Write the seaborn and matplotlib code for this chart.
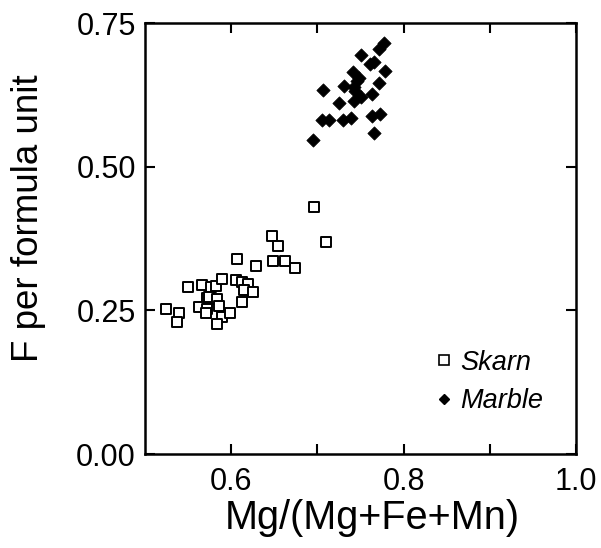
import pandas as pd
import seaborn as sns
import matplotlib.pyplot as plt
from matplotlib.lines import Line2D
from matplotlib.ticker import FixedLocator

# Skarn samples (open squares)
skarn_x = [0.696, 0.647, 0.654, 0.710, 0.607, 0.629, 0.649, 0.662, 0.674,
           0.550, 0.566, 0.576, 0.582, 0.589, 0.606, 0.612, 0.619, 0.615,
           0.625, 0.524, 0.539, 0.537, 0.572, 0.574, 0.584, 0.563, 0.572,
           0.586, 0.571, 0.589, 0.599, 0.612, 0.584]
skarn_y = [0.429, 0.380, 0.362, 0.369, 0.339, 0.328, 0.336, 0.336, 0.324,
           0.290, 0.294, 0.290, 0.293, 0.305, 0.303, 0.299, 0.295, 0.286,
           0.282, 0.253, 0.245, 0.230, 0.272, 0.273, 0.269, 0.256, 0.253,
           0.257, 0.245, 0.238, 0.245, 0.264, 0.226]

# Marble samples (filled diamonds)
marble_x = [0.777, 0.771, 0.751, 0.761, 0.766, 0.778, 0.741, 0.706, 0.731,
            0.746, 0.742, 0.771, 0.725, 0.743, 0.751, 0.763, 0.705, 0.714,
            0.730, 0.739, 0.763, 0.773, 0.766, 0.695, 0.744, 0.748]
marble_y = [0.716, 0.704, 0.694, 0.679, 0.682, 0.667, 0.664, 0.633, 0.641,
            0.649, 0.639, 0.645, 0.611, 0.614, 0.622, 0.626, 0.581, 0.581,
            0.581, 0.584, 0.588, 0.592, 0.558, 0.547, 0.632, 0.655]

x_ticks = [0.6, 0.8, 1.0]
x_minor = [0.7, 0.9]
y_ticks = [0.00, 0.25, 0.50, 0.75]

df_skarn = pd.DataFrame({"x": skarn_x, "y": skarn_y})
df_marble = pd.DataFrame({"x": marble_x, "y": marble_y})

sns.set_style("ticks")
plt.rcParams["font.family"] = ["Liberation Sans", "DejaVu Sans"]
plt.rcParams["text.color"] = "black"
plt.rcParams["axes.labelcolor"] = "black"
plt.rcParams["xtick.color"] = "black"
plt.rcParams["ytick.color"] = "black"
plt.rcParams["axes.edgecolor"] = "black"

fig = plt.figure(figsize=(6.01, 5.48), dpi=100)
ax = fig.add_axes([0.2413, 0.1715, 0.7171, 0.7865])

sns.scatterplot(data=df_skarn, x="x", y="y", marker="s", s=55,
                facecolor="white", edgecolor="black", linewidth=1.4, ax=ax)
sns.scatterplot(data=df_marble, x="x", y="y", marker="D", s=46,
                color="black", edgecolor="black", linewidth=0.5, ax=ax)

ax.set_xlim(0.5, 1.0)
ax.set_ylim(0.0, 0.75)
ax.xaxis.set_major_locator(FixedLocator(x_ticks))
ax.xaxis.set_minor_locator(FixedLocator(x_minor))
ax.yaxis.set_major_locator(FixedLocator(y_ticks))
ax.set_xticklabels([f"{v:.1f}" for v in x_ticks])
ax.set_yticklabels([f"{v:.2f}" for v in y_ticks])
ax.tick_params(which="both", direction="in", top=True, right=True,
               length=7, width=1.5, labelsize=22)
ax.tick_params(axis="x", which="both", pad=9)
ax.tick_params(axis="y", which="both", pad=6.5)
for sp in ax.spines.values():
    sp.set_linewidth(1.8)

ax.set_xlabel("Mg/(Mg+Fe+Mn)", fontsize=28.5)
ax.set_ylabel("F per formula unit", fontsize=26.5)
ax.xaxis.set_label_coords(0.527, -0.104)
ax.yaxis.set_label_coords(-0.230, 0.548)

handles = [
    Line2D([], [], marker="s", linestyle="none", markersize=6.5,
           markerfacecolor="white", markeredgecolor="black", markeredgewidth=1.2),
    Line2D([], [], marker="D", linestyle="none", markersize=5.5,
           markerfacecolor="black", markeredgecolor="black"),
]
leg = ax.legend(handles, ["Skarn", "Marble"], loc="upper left",
                bbox_to_anchor=(0.605, 0.298), frameon=False,
                prop={"style": "italic", "size": 19.5},
                handletextpad=0.1, labelspacing=0.45, handlelength=1.0)

fig.savefig("out.png", dpi=100)
